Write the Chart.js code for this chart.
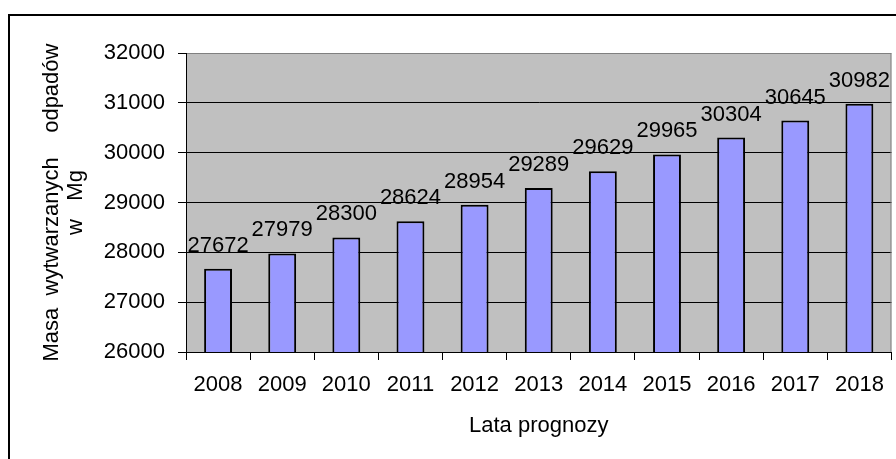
<!DOCTYPE html>
<html>
<head>
<meta charset="utf-8">
<script src="https://cdn.jsdelivr.net/npm/chart.js@4"></script>
<style>
    html, body { margin: 0; padding: 0; background: #fff; }
    #wrap { position: relative; width: 896px; height: 459px; }
</style>
</head>
<body>
<div id="wrap"><canvas id="chartWaste"></canvas></div>
<script>
const years = ["2008", "2009", "2010", "2011", "2012", "2013", "2014", "2015", "2016", "2017", "2018"];
const wasteMg = [27672, 27979, 28300, 28624, 28954, 29289, 29629, 29965, 30304, 30645, 30982];
const yTicks = [26000, 27000, 28000, 29000, 30000, 31000, 32000];
const yTitle = ["Masa  wytwarzanych    odpadów", "w   Mg"];
const xTitle = "Lata prognozy";

const FONT = "'Liberation Sans', Arial, sans-serif";
Chart.defaults.color = "#000";
Chart.defaults.font.family = FONT;
Chart.defaults.font.size = 22;

// FRAME + PLOT BACKGROUND
const framePlugin = {
    id: "frame",
    beforeDraw(chart) {
        const ctx = chart.ctx;
        const a = chart.chartArea;
        ctx.save();
        ctx.fillStyle = "#fff";
        ctx.fillRect(0, 0, chart.width, chart.height);
        ctx.strokeStyle = "#000";
        ctx.lineWidth = 2;
        ctx.strokeRect(9, 15, 2000, 2000);
        ctx.fillStyle = "#c0c0c0";
        ctx.fillRect(a.left, a.top, a.right - a.left, a.bottom - a.top);
        ctx.restore();
    },
    afterDraw(chart) {
        const ctx = chart.ctx;
        const a = chart.chartArea;
        ctx.save();
        ctx.strokeStyle = "#808080";
        ctx.lineWidth = 1;
        ctx.beginPath();
        ctx.moveTo(a.left + 1, a.top + 0.5);
        ctx.lineTo(a.right - 0.5, a.top + 0.5);
        ctx.lineTo(a.right - 0.5, a.bottom);
        ctx.stroke();
        ctx.restore();
    }
};

// VALUE LABELS ABOVE BARS
const valueLabels = {
    id: "valueLabels",
    afterDatasetsDraw(chart) {
        const ctx = chart.ctx;
        const meta = chart.getDatasetMeta(0);
        ctx.save();
        ctx.font = "22px " + FONT;
        ctx.fillStyle = "#000";
        ctx.textAlign = "center";
        ctx.textBaseline = "alphabetic";
        meta.data.forEach((bar, i) => {
            ctx.fillText(String(wasteMg[i]), bar.x, bar.y - 17);
        });
        ctx.restore();
    }
};

new Chart(document.getElementById("chartWaste"), {
    type: "bar",
    data: {
        labels: years,
        datasets: [{
            data: wasteMg,
            backgroundColor: "#9999ff",
            borderColor: "#000",
            borderWidth: 2,
            barPercentage: 0.435,
            categoryPercentage: 1
        }]
    },
    options: {
        responsive: true,
        maintainAspectRatio: false,
        animation: false,
        layout: { padding: { top: 53, right: 3, left: 0, bottom: 0 } },
        plugins: {
            legend: { display: false },
            tooltip: { enabled: false }
        },
        scales: {
            x: {
                grid: {
                    drawOnChartArea: false,
                    drawTicks: true,
                    tickLength: 8,
                    tickColor: "#000",
                    color: "#000"
                },
                border: { color: "#000", width: 1 },
                ticks: { padding: 12, maxRotation: 0, autoSkip: false, font: { size: 22 } },
                title: {
                    display: true,
                    text: xTitle,
                    font: { size: 22, lineHeight: 1.2 },
                    padding: { top: 0, bottom: 20 }
                },
                afterFit(scale) { scale.height = 107; }
            },
            y: {
                min: yTicks[0],
                max: yTicks[yTicks.length - 1],
                afterBuildTicks(scale) { scale.ticks = yTicks.map(v => ({ value: v })); },
                grid: {
                    color: ctx => (ctx.tick && ctx.tick.value === 32000) ? "#808080" : "#000",
                    tickColor: "#000",
                    tickLength: 8,
                    lineWidth: 1
                },
                border: { color: "#000", width: 1 },
                ticks: { padding: 13, font: { size: 22 }, callback: v => String(v) },
                title: {
                    display: true,
                    text: yTitle,
                    font: { size: 22, lineHeight: 1.1 },
                    padding: { top: 40, bottom: 0 }
                },
                afterFit(scale) { scale.width = 186; }
            }
        }
    },
    plugins: [framePlugin, valueLabels]
});
</script>
</body>
</html>
